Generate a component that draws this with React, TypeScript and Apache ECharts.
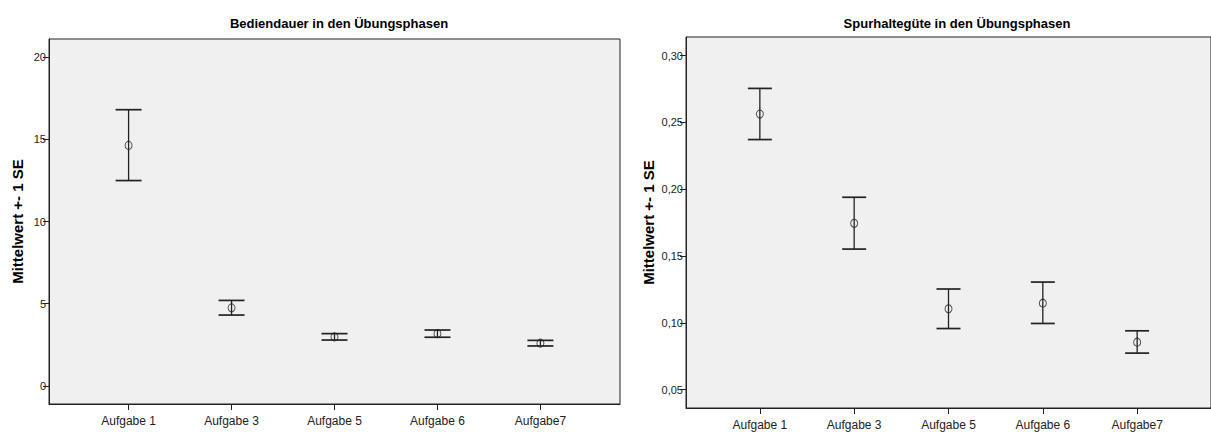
import React, { useEffect, useRef } from "react";
import * as echarts from "echarts";

const categories = ["Aufgabe 1", "Aufgabe 3", "Aufgabe 5", "Aufgabe 6", "Aufgabe7"];

const bedienMean = [14.63, 4.75, 2.98, 3.18, 2.6];
const bedienLow = [12.49, 4.31, 2.79, 2.96, 2.43];
const bedienHigh = [16.8, 5.2, 3.18, 3.4, 2.77];

const spurMean = [0.2563, 0.1745, 0.1105, 0.1147, 0.0855];
const spurLow = [0.2372, 0.1552, 0.0957, 0.0995, 0.0773];
const spurHigh = [0.2755, 0.194, 0.1253, 0.1305, 0.094];

const bedienTicks = [0, 5, 10, 15, 20];
const spurTicks = [0.05, 0.1, 0.15, 0.2, 0.25, 0.3];
const catIdx = [0, 1, 2, 3, 4];

const titleLeft = "Bediendauer in den Übungsphasen";
const titleRight = "Spurhaltegüte in den Übungsphasen";
const yName = "Mittelwert +- 1 SE";

const FONT = "'Liberation Sans', Arial, sans-serif";
const INK = "#222";

function makeRender(hw: number) {
  return (params: any, api: any) => {
    const x = api.value(0);
    const lo = api.value(1);
    const hi = api.value(2);
    const pLo = api.coord([x, lo]);
    const pHi = api.coord([x, hi]);
    return {
      type: "group",
      children: [
        { type: "line", shape: { x1: pLo[0], y1: pLo[1], x2: pHi[0], y2: pHi[1] }, style: { stroke: INK, lineWidth: 1.3 } },
        { type: "line", shape: { x1: pLo[0] - hw, y1: pLo[1], x2: pLo[0] + hw, y2: pLo[1] }, style: { stroke: INK, lineWidth: 1.7 } },
        { type: "line", shape: { x1: pHi[0] - hw, y1: pHi[1], x2: pHi[0] + hw, y2: pHi[1] }, style: { stroke: INK, lineWidth: 1.7 } },
      ],
    };
  };
}

export default function App() {
  const ref = useRef<HTMLDivElement>(null);
  useEffect(() => {
    if (!ref.current) return;
    const chart = echarts.init(ref.current, null, { renderer: "svg" });
    const xAxisBase = (idx: number, min: number, max: number, margin: number) => ({
      type: "value",
      gridIndex: idx,
      min,
      max,
      splitLine: { show: false },
      axisLine: { show: true, onZero: false, lineStyle: { color: INK, width: 1 } },
      axisTick: { show: true, customValues: catIdx, length: 6, lineStyle: { color: INK } },
      axisLabel: {
        customValues: catIdx,
        formatter: (v: number) => categories[Math.round(v)] ?? "",
        color: INK,
        fontSize: 12,
        fontFamily: FONT,
        margin,
      },
    });
    const yAxisBase = (idx: number, min: number, max: number, ticks: number[], fmt: (v: number) => string, gap: number) => ({
      type: "value",
      gridIndex: idx,
      min,
      max,
      name: yName,
      nameLocation: "middle",
      nameGap: gap,
      nameTextStyle: { color: "#000", fontSize: 15, fontWeight: "bold", fontFamily: FONT },
      splitLine: { show: false },
      axisLine: { show: true, onZero: false, lineStyle: { color: INK, width: 1 } },
      axisTick: { show: true, customValues: ticks, length: 6, lineStyle: { color: INK } },
      axisLabel: {
        customValues: ticks,
        formatter: fmt,
        color: INK,
        fontSize: 11,
        fontFamily: FONT,
        margin: 3,
      },
    });
    chart.setOption({
      animation: false,
      backgroundColor: "#fff",
      title: [
        { text: titleLeft, left: 334, top: 12, textAlign: "center", textStyle: { fontSize: 13, fontWeight: "bold", fontFamily: FONT, color: "#000" } },
        { text: titleRight, left: 952, top: 12, textAlign: "center", textStyle: { fontSize: 13, fontWeight: "bold", fontFamily: FONT, color: "#000" } },
      ],
      grid: [
        { left: 49, top: 39, width: 571, height: 365, show: true, backgroundColor: "#f0f0f0", borderColor: INK, borderWidth: 1 },
        { left: 686, top: 37, width: 537, height: 371, show: true, backgroundColor: "#f0f0f0", borderColor: INK, borderWidth: 1 },
      ],
      xAxis: [xAxisBase(0, -0.773, 4.773, 11), xAxisBase(1, -0.783, 4.783, 11)],
      yAxis: [
        yAxisBase(0, -1.1, 21.1, bedienTicks, (v: number) => String(v), 24),
        yAxisBase(1, 0.0362, 0.314, spurTicks, (v: number) => v.toFixed(2).replace(".", ","), 30),
      ],
      series: [
        {
          type: "custom",
          xAxisIndex: 0,
          yAxisIndex: 0,
          renderItem: makeRender(13),
          encode: { x: 0, y: [1, 2] },
          data: catIdx.map((i) => [i, bedienLow[i], bedienHigh[i]]),
          z: 2,
        },
        {
          type: "scatter",
          xAxisIndex: 0,
          yAxisIndex: 0,
          symbol: "circle",
          symbolSize: [7, 8],
          itemStyle: { color: "rgba(0,0,0,0)", borderColor: INK, borderWidth: 1 },
          data: catIdx.map((i) => [i, bedienMean[i]]),
          z: 3,
        },
        {
          type: "custom",
          xAxisIndex: 1,
          yAxisIndex: 1,
          renderItem: makeRender(12),
          encode: { x: 0, y: [1, 2] },
          data: catIdx.map((i) => [i, spurLow[i], spurHigh[i]]),
          z: 2,
        },
        {
          type: "scatter",
          xAxisIndex: 1,
          yAxisIndex: 1,
          symbol: "circle",
          symbolSize: [7, 8],
          itemStyle: { color: "rgba(0,0,0,0)", borderColor: INK, borderWidth: 1 },
          data: catIdx.map((i) => [i, spurMean[i]]),
          z: 3,
        },
      ],
    });
    return () => chart.dispose();
  }, []);
  return (
    <div
      ref={ref}
      style={{ position: "fixed", left: 0, top: 0, width: 1211, height: 432 }}
    />
  );
}
